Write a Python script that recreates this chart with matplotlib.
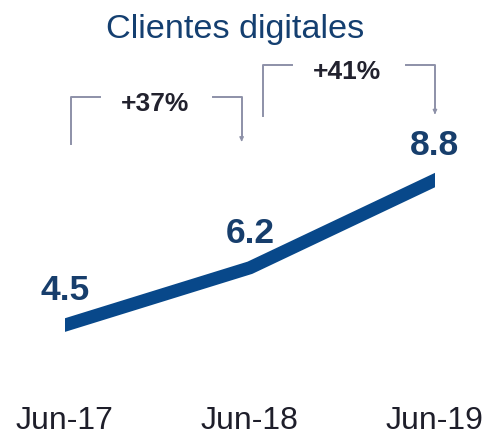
import matplotlib
matplotlib.use("Agg")
import matplotlib.pyplot as plt
from matplotlib.patches import Rectangle

plt.rcParams['font.family'] = ['Liberation Sans', 'DejaVu Sans']

# data
periods = ['Jun-17', 'Jun-18', 'Jun-19']
clients = [4.5, 6.2, 8.8]
growth = ['+37%', '+41%']

title_color = '#143f70'
line_color = '#08488a'
value_color = '#173e6c'
bracket_color = '#8d91a8'

fig = plt.figure(figsize=(4.91, 4.35), dpi=100)
ax = fig.add_axes([0, 0, 1, 1])
ax.set_xlim(-0.351, 2.303)
ax.set_ylim(1.27, 14.17)
ax.axis('off')

x = list(range(len(periods)))
ln, = ax.plot(x, clients, color=line_color, lw=9.4,
              solid_joinstyle='round', solid_capstyle='projecting')
ln.set_clip_path(Rectangle((0, 0), 2, 20, transform=ax.transData))

# value labels
for xi, v in zip(x, clients):
    ax.annotate(f'{v:.1f}', (xi, v), xytext=(0, 25.5), textcoords='offset points',
                ha='center', va='center', fontsize=25.5, fontweight='bold',
                color=value_color)

# period labels
for xi, p in zip(x, periods):
    ax.text(xi, 0.033, p, transform=ax.get_xaxis_transform(), ha='center',
            va='center', fontsize=23, color='#1e1e2a')

ax.text(0.478, 0.932, 'Clientes digitales', transform=ax.transAxes, ha='center',
        va='center', fontsize=24.7, color=title_color)

# growth brackets (x in data, y in axes fraction)
tr = ax.get_xaxis_transform()
brackets = [(0.035, 0.955, 0.775, 0.667, 0.672), (1.07, 2.0, 0.848, 0.731, 0.735)]
for (xl, xr, ytop, ybl, ybr), g in zip(brackets, growth):
    xm = (xl + xr) / 2
    ax.plot([xl, xl, xl + 0.155], [ybl, ytop, ytop], color=bracket_color,
            lw=1.4, transform=tr)
    ax.plot([xr - 0.155, xr, xr], [ytop, ytop, ybr + 0.01], color=bracket_color,
            lw=1.4, transform=tr)
    ax.annotate('', xy=(xr, ybr), xytext=(xr, ybr + 0.012), xycoords=tr,
                textcoords=tr,
                arrowprops=dict(arrowstyle='-|>', color=bracket_color,
                                lw=1.0, mutation_scale=6))
    ax.text(xm - 0.01, ytop - 0.014, g, transform=tr, ha='center', va='center',
            fontsize=19, fontweight='bold', color='#22222e')

fig.savefig('out.png', dpi=100)
